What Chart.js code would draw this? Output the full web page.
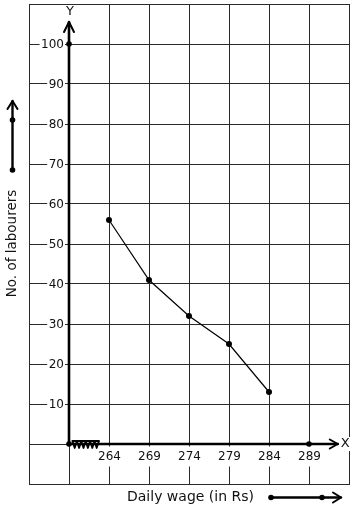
<!DOCTYPE html>
<html><head><meta charset="utf-8">
<script src="https://cdn.jsdelivr.net/npm/chart.js@4/dist/chart.umd.min.js"></script>
<style>html,body{margin:0;padding:0;background:#fff}#wrap{width:354px;height:510px;position:relative}</style>
</head><body><div id="wrap"><canvas id="c"></canvas></div>
<script>
// ---- data ----
const wages = [264, 269, 274, 279, 284];
const labourers = [56, 41, 32, 25, 13];
const xTickLabels = [264, 269, 274, 279, 284, 289];
const yTickLabels = [10, 20, 30, 40, 50, 60, 70, 80, 90, 100];
const xTitle = 'Daily wage (in Rs)';
const yTitle = 'No. of labourers';
const xAxisName = 'X';
const yAxisName = 'Y';
const xOrigin = 259, yOrigin = 0;
const xMin = 254, xMax = 294, xStep = 5;
const yMin = -10, yMax = 110, yStep = 10;
const xArrowTip = 292.6, yArrowTip = 105.5;
const xDotValue = 289, yDotValue = 100;

const FONT = '"DejaVu Sans", "Liberation Sans", sans-serif';

function arrowHead(ctx, tx, ty, dx, dy, back, side) {
  const bx = tx - dx * back, by = ty - dy * back;
  ctx.beginPath();
  ctx.moveTo(bx - dy * side, by + dx * side);
  ctx.lineTo(tx, ty);
  ctx.lineTo(bx + dy * side, by - dx * side);
  ctx.stroke();
}
function dot(ctx, x, y, r) {
  ctx.beginPath(); ctx.arc(x, y, r, 0, Math.PI * 2); ctx.fill();
}

const decor = {
  id: 'decor',
  beforeDatasetsDraw(chart) {
    const { ctx, chartArea: ca, scales: { x, y } } = chart;
    const ox = x.getPixelForValue(xOrigin), oy = y.getPixelForValue(yOrigin);
    ctx.save();
    ctx.font = '12px ' + FONT;
    // y tick labels
    ctx.textAlign = 'right'; ctx.textBaseline = 'middle';
    yTickLabels.forEach(v => {
      const py = Math.round(y.getPixelForValue(v)) + 0.5;
      const t = String(v), w = ctx.measureText(t).width;
      const right = ox - 5;
      ctx.fillStyle = '#fff'; ctx.fillRect(right - w - 1.5, py - 6, w + 2.5, 12);
      ctx.fillStyle = '#111'; ctx.fillText(t, right, py + 0.5);
    });
    // x tick labels
    ctx.textAlign = 'center';
    xTickLabels.forEach(v => {
      const px = Math.round(x.getPixelForValue(v)) + 0.5;
      const t = String(v), w = ctx.measureText(t).width;
      const cy = oy + 13;
      ctx.fillStyle = '#fff'; ctx.fillRect(px - w / 2 - 1, oy + 2.5, w + 2, 20);
      ctx.fillStyle = '#111'; ctx.fillText(t, px, cy);
    });
    // axis names
    ctx.font = '13px ' + FONT;
    let w = ctx.measureText(yAxisName).width;
    ctx.fillStyle = '#fff'; ctx.fillRect(ox - w / 2 - 1, ca.top + 1, w + 2, 16);
    ctx.fillStyle = '#111'; ctx.fillText(yAxisName, ox + 1, ca.top + 8);
    const xTipPx = x.getPixelForValue(xArrowTip);
    w = ctx.measureText(xAxisName).width;
    ctx.fillStyle = '#fff'; ctx.fillRect(xTipPx + 1, oy - 7, w + 5, 14);
    ctx.fillStyle = '#111'; ctx.fillText(xAxisName, xTipPx + 3 + w / 2, oy);

    // axes
    const yTipPx = y.getPixelForValue(yArrowTip);
    ctx.strokeStyle = '#000'; ctx.fillStyle = '#000';
    ctx.lineCap = 'round'; ctx.lineJoin = 'round';
    ctx.lineWidth = 2.6;
    ctx.beginPath(); ctx.moveTo(ox, oy); ctx.lineTo(ox, yTipPx); ctx.stroke();
    ctx.beginPath(); ctx.moveTo(ox, oy); ctx.lineTo(xTipPx, oy); ctx.stroke();
    ctx.lineWidth = 2;
    arrowHead(ctx, ox, yTipPx, 0, -1, 10, 5);
    arrowHead(ctx, xTipPx, oy, 1, 0, 8, 4.5);
    // zigzag break
    ctx.lineWidth = 1.8;
    ctx.beginPath();
    const zx0 = ox + 3.5, n = 12, step = 2.2;
    ctx.moveTo(zx0, oy - 3);
    for (let i = 1; i <= n; i++) ctx.lineTo(zx0 + i * step, i % 2 ? oy + 4 : oy - 3);
    ctx.stroke();
    ctx.beginPath(); ctx.moveTo(zx0, oy - 3); ctx.lineTo(zx0 + n * step, oy - 3); ctx.stroke();
    // dots
    dot(ctx, ox, oy, 2.8);
    dot(ctx, ox, y.getPixelForValue(yDotValue), 2.8);
    dot(ctx, x.getPixelForValue(xDotValue), oy, 2.8);

    // scale-direction arrows
    ctx.lineWidth = 2.4;
    const vx = 12.5;
    ctx.beginPath(); ctx.moveTo(vx, 170); ctx.lineTo(vx, 101); ctx.stroke();
    ctx.lineWidth = 2;
    arrowHead(ctx, vx, 101, 0, -1, 8, 5);
    dot(ctx, vx, 170, 2.8); dot(ctx, vx, 120, 2.8);
    const hy = 497.5;
    ctx.lineWidth = 2.4;
    ctx.beginPath(); ctx.moveTo(271, hy); ctx.lineTo(341, hy); ctx.stroke();
    ctx.lineWidth = 2;
    arrowHead(ctx, 341, hy, 1, 0, 8, 5);
    dot(ctx, 271, hy, 2.8); dot(ctx, 322, hy, 2.8);

    // titles
    ctx.fillStyle = '#111';
    ctx.textAlign = 'center'; ctx.textBaseline = 'middle';
    ctx.font = '14px ' + FONT;
    ctx.fillText(xTitle, 190.5, 497);
    ctx.save();
    ctx.translate(12, 243.5); ctx.rotate(-Math.PI / 2);
    ctx.font = '13.5px ' + FONT;
    ctx.fillText(yTitle, 0, 0);
    ctx.restore();
    ctx.restore();
  }
};

new Chart(document.getElementById('c'), {
  type: 'line',
  data: {
    datasets: [{
      data: wages.map((v, i) => ({ x: v, y: labourers[i] })),
      borderColor: '#000', borderWidth: 1.2,
      pointBackgroundColor: '#000', pointBorderColor: '#000',
      pointRadius: 3, pointBorderWidth: 0, tension: 0, fill: false
    }]
  },
  options: {
    responsive: true, maintainAspectRatio: false, animation: false,
    devicePixelRatio: 1,
    layout: { padding: { left: 29, right: 5, top: 4, bottom: 26 } },
    plugins: { legend: { display: false }, tooltip: { enabled: false } },
    scales: {
      x: {
        type: 'linear', min: xMin, max: xMax,
        ticks: { display: false, stepSize: xStep },
        grid: { color: '#2a2a2a', lineWidth: 1, drawTicks: false },
        border: { display: true, color: '#2a2a2a', width: 1 }
      },
      y: {
        type: 'linear', min: yMin, max: yMax,
        ticks: { display: false, stepSize: yStep },
        grid: { color: '#2a2a2a', lineWidth: 1, drawTicks: false },
        border: { display: true, color: '#2a2a2a', width: 1 }
      }
    }
  },
  plugins: [decor]
});
</script></body></html>
